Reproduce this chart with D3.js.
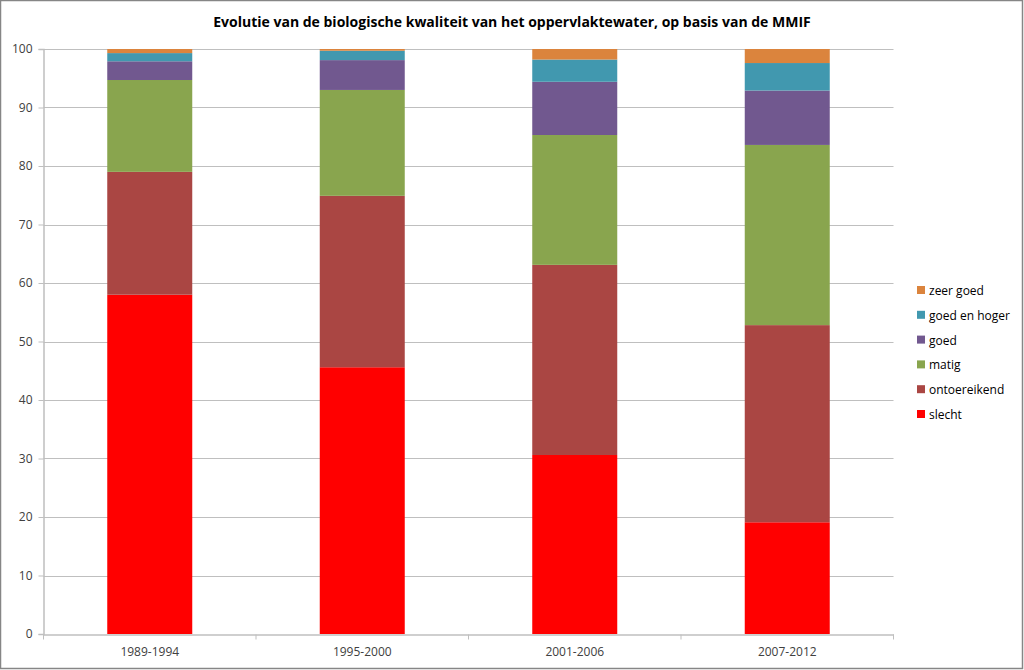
<!DOCTYPE html>
<html><head><meta charset="utf-8">
<script src="https://cdn.jsdelivr.net/npm/d3@7/dist/d3.min.js"></script>
<style>body{margin:0;background:#fff;} svg{display:block;} text{font-family:"Open Sans","Noto Sans",sans-serif;}</style>
</head><body>
<svg id="c" width="1024" height="670"></svg>
<script>
const categories = ["1989-1994","1995-2000","2001-2006","2007-2012"];
const seriesNames = ["slecht","ontoereikend","matig","goed","goed en hoger","zeer goed"];
const slecht = [58.0, 45.6, 30.6, 19.1];
const ontoereikend = [21.0, 29.3, 32.5, 33.7];
const matig = [15.7, 18.1, 22.2, 30.8];
const goed = [3.2, 5.1, 9.1, 9.3];
const goedEnHoger = [1.4, 1.6, 3.8, 4.7];
const zeerGoed = [0.7, 0.3, 1.8, 2.4];
const colors = ["#FF0000","#AA4643","#89A54E","#71588F","#4198AF","#DB843D"];
const yTicks = [0,10,20,30,40,50,60,70,80,90,100];
const title = "Evolutie van de biologische kwaliteit van het oppervlaktewater, op basis van de MMIF";

const svg = d3.select("#c");
svg.append("rect").attr("x",0.5).attr("y",0.5).attr("width",1022).attr("height",668)
  .attr("fill","#fff").attr("stroke","#868686").attr("stroke-width",1.5);

const L=43.5, R=893.5, T=49, B=634;
const x = d3.scaleBand().domain(categories).range([L,R]).paddingInner(0.6).paddingOuter(0.3);
const xb = d3.scaleBand().domain(categories).range([L,R]);
const y = d3.scaleLinear().domain([0,100]).range([B,T]);

const data = categories.map((c,i)=>({cat:c, slecht:slecht[i], ontoereikend:ontoereikend[i], matig:matig[i], goed:goed[i], "goed en hoger":goedEnHoger[i], "zeer goed":zeerGoed[i]}));
const stack = d3.stack().keys(seriesNames)(data);

// gridlines
svg.append("g").selectAll("line").data(yTicks.filter(d=>d>0)).join("line")
  .attr("x1",L).attr("x2",R).attr("y1",d=>Math.round(y(d))+0.5).attr("y2",d=>Math.round(y(d))+0.5)
  .attr("stroke","#BFBFBF").attr("stroke-width",1);

// bars
svg.append("g").selectAll("g").data(stack).join("g").attr("fill",(d,i)=>colors[i])
  .selectAll("rect").data(d=>d).join("rect")
  .attr("x",d=>x(d.data.cat)).attr("width",x.bandwidth())
  .attr("y",d=>y(d[1])).attr("height",d=>y(d[0])-y(d[1]));

// y axis
const ya = svg.append("g").attr("transform",`translate(${L},0)`)
  .call(d3.axisLeft(y).tickValues(yTicks).tickSize(5).tickPadding(6));
ya.select(".domain").attr("stroke","#BFBFBF").attr("stroke-width",1.5);
ya.selectAll(".tick line").attr("stroke","#BFBFBF");
ya.selectAll("text").attr("font-size",12).attr("fill","#404040");

// x axis
const xa = svg.append("g").attr("transform",`translate(0,${B+0.5})`)
  .call(d3.axisBottom(xb).tickSize(0).tickPadding(13));
xa.select(".domain").attr("stroke","#BFBFBF").attr("stroke-width",1.5);
xa.selectAll("text").attr("font-size",12).attr("fill","#404040");
xa.selectAll("line.sep").data(categories.concat(["end"])).join("line").attr("class","sep")
  .attr("x1",(d,i)=>L+i*xb.step()).attr("x2",(d,i)=>L+i*xb.step()).attr("y1",0).attr("y2",5)
  .attr("stroke","#BFBFBF");

// title
svg.append("text").attr("x",512).attr("y",27).attr("text-anchor","middle")
  .attr("font-size",14).attr("font-weight","bold").attr("fill","#000").text(title);

// legend
const legendOrder = seriesNames.map((n,i)=>({n,c:colors[i]})).reverse();
const lg = svg.append("g").selectAll("g").data(legendOrder).join("g")
  .attr("transform",(d,i)=>`translate(917,${291+i*24.8})`);
lg.append("rect").attr("x",0).attr("y",-5).attr("width",8).attr("height",8).attr("fill",d=>d.c);
lg.append("text").attr("x",12).attr("y",4).attr("font-size",12).attr("fill","#000").text(d=>d.n);
</script>
</body></html>
